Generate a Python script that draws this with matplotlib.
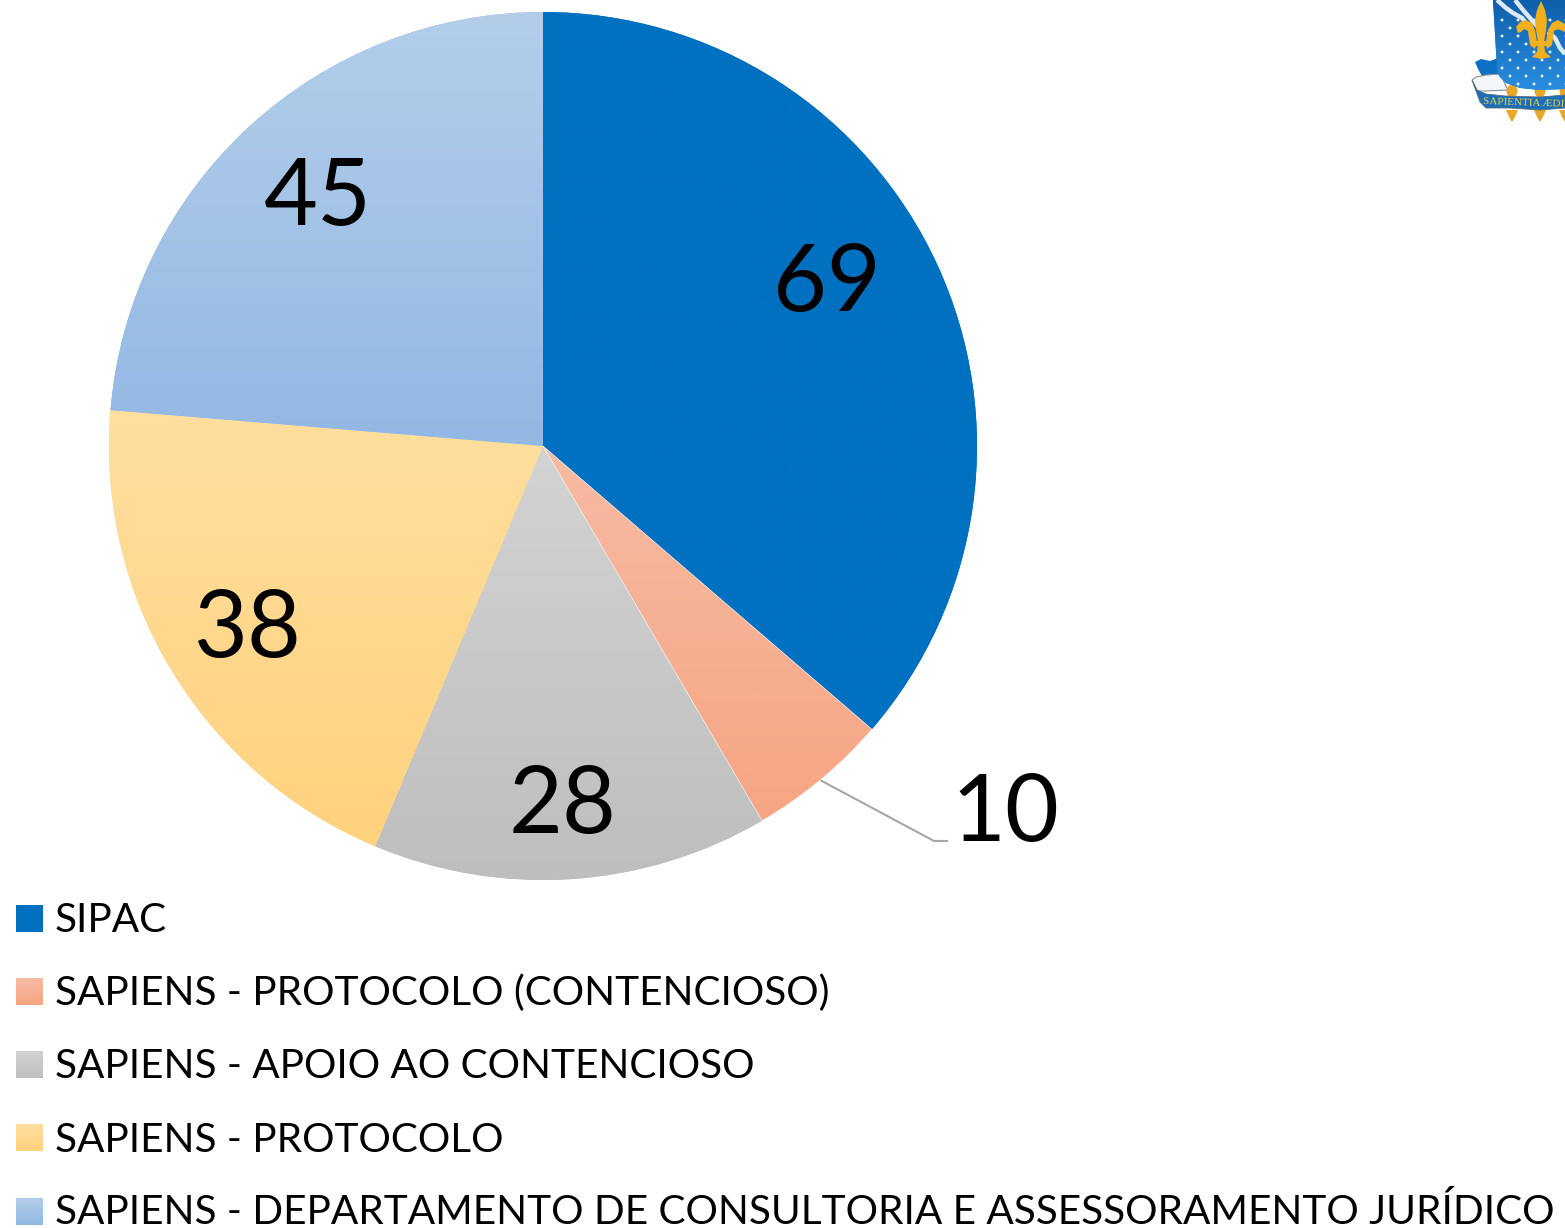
import numpy as np
import matplotlib
matplotlib.use('Agg')
import matplotlib.pyplot as plt
from matplotlib.colors import LinearSegmentedColormap
from matplotlib.patches import PathPatch, Polygon, Circle, Ellipse

plt.rcParams['font.family'] = ['Lato', 'DejaVu Sans']

W, H = 1565, 1228

categories = [
    'SIPAC',
    'SAPIENS - PROTOCOLO (CONTENCIOSO)',
    'SAPIENS - APOIO AO CONTENCIOSO',
    'SAPIENS - PROTOCOLO',
    'SAPIENS - DEPARTAMENTO DE CONSULTORIA E ASSESSORAMENTO JURÍDICO',
]
values = [69, 10, 28, 38, 45]
colors_top = ['#0070C0', '#F6BBA3', '#D3D3D3', '#FFDF9F', '#B4CEEA']
colors_bottom = ['#0070C0', '#F6A583', '#BEBEBE', '#FFD27E', '#92B8E3']
label_pos = [(827, 285), (1005, 815), (563, 807), (247, 631), (318, 199)]
legend_swatch_y = [918.5, 991.5, 1065, 1138, 1211.5]
legend_text_y = [917, 990, 1063.5, 1136.5, 1208]


def flip(y):
    return H - y


def gradient_fill(ax, top, bottom, extent, clip=None, zorder=2):
    """Vertical gradient, optionally clipped to a patch."""
    cmap = LinearSegmentedColormap.from_list('g', [top, bottom])
    grad = np.linspace(0, 1, 256).reshape(-1, 1)
    im = ax.imshow(grad, cmap=cmap, extent=extent, origin='upper',
                   aspect='auto', interpolation='bilinear', zorder=zorder)
    if clip is not None:
        im.set_clip_path(clip)
    return im


def poly(ax, pts, **kw):
    p = Polygon([(x, flip(y)) for x, y in pts], **kw)
    ax.add_patch(p)
    return p


def draw_crest(ax):
    """Rough version of the crest cut off in the top right corner."""
    gold = '#F2B01E'

    # blue flag and white scroll behind the shield
    poly(ax, [(1475, 62), (1481, 59), (1490, 61), (1498, 58), (1499, 76), (1482, 76), (1478, 69)],
         fc='#0E6FC4', ec='none', zorder=3)
    poly(ax, [(1472, 80), (1476, 77), (1486, 75), (1500, 74), (1508, 90), (1486, 91), (1477, 91)],
         fc='#F4F6FA', ec='#8A8F96', lw=0.8, zorder=3)

    # shield
    shield = poly(ax, [(1493, 0), (1565, 0), (1565, 89), (1540, 90), (1520, 88), (1506, 83), (1499, 76), (1497, 68)],
                  fc='#1477CC', ec='none', zorder=4)
    gradient_fill(ax, '#0F5FA8', '#2A8FE2', (1490, 1565, flip(92), flip(0)), clip=shield, zorder=4)

    # wavy white bands
    bands = [
        [(1497, 0), (1506, 8), (1513, 13), (1522, 18), (1530, 28)],
        [(1515, 0), (1523, 10), (1530, 18), (1537, 26), (1545, 32)],
        [(1548, 32), (1555, 38), (1560, 48), (1565, 54)],
    ]
    for band in bands:
        xs = [b[0] for b in band]
        ys = [flip(b[1]) for b in band]
        line, = ax.plot(xs, ys, color='#DDE9F5', lw=3.2, zorder=5, solid_capstyle='butt')
        line.set_clip_path(shield)

    # dots, every other row shifted
    for j, dy in enumerate(range(20, 90, 8)):
        off = 0 if j % 2 == 0 else 8
        for dx in range(1502, 1570, 16):
            c = Circle((dx + off, flip(dy)), 1.5, fc='#DCEBFA', ec='none', zorder=5)
            ax.add_patch(c)
            c.set_clip_path(shield)

    # fleur-de-lis
    poly(ax, [(1541, 1), (1545, 10), (1547, 20), (1546, 30), (1544, 42), (1538, 42), (1536, 30), (1535, 20), (1537, 10)],
         fc=gold, ec='none', zorder=7)
    poly(ax, [(1516, 27), (1520, 22), (1526, 20), (1532, 23), (1535, 30), (1537, 42), (1535, 49), (1530, 45), (1529, 38),
              (1528, 31), (1524, 29), (1521, 32), (1518, 33)], fc=gold, ec='none', zorder=7)
    poly(ax, [(1565, 24), (1558, 20), (1552, 23), (1548, 30), (1546, 42), (1547, 49), (1552, 45), (1553, 38), (1554, 31),
              (1558, 29), (1565, 32)], fc=gold, ec='none', zorder=7)
    poly(ax, [(1531, 41), (1551, 41), (1551, 46), (1531, 46)], fc=gold, ec='none', zorder=7)
    poly(ax, [(1538, 44), (1544, 44), (1545, 52), (1551, 57), (1541, 59), (1532, 57), (1537, 52)],
         fc=gold, ec='none', zorder=7)

    # gold tassels
    for tx in [1512, 1540, 1565]:
        poly(ax, [(tx - 6, 110), (tx + 6, 110), (tx + 3, 117), (tx, 122), (tx - 3, 117)],
             fc='#E9A727', ec='none', zorder=5)
        ax.add_patch(Ellipse((tx, flip(91)), 11, 13, fc='#E9A727', ec='none', zorder=3.5))

    # ribbon
    poly(ax, [(1472, 80), (1477, 90), (1486, 94), (1505, 96), (1540, 97), (1565, 95),
              (1565, 108), (1540, 110), (1510, 108), (1486, 108), (1480, 102)],
         fc='#1A6FB8', ec='#5A6B7A', lw=0.6, zorder=6)
    ax.text(1483, flip(102), 'SAPIENTIA ÆDI', family='Liberation Serif', fontsize=8, color='#E9D04A',
            rotation=-2, rotation_mode='anchor', ha='left', va='center', zorder=8)


fig = plt.figure(figsize=(W / 100, H / 100), dpi=100)
ax = fig.add_axes([0, 0, 1, 1])

wedges, _ = ax.pie(values, startangle=90, counterclock=False, center=(543, flip(446)), radius=434,
                   colors=colors_bottom, wedgeprops={'linewidth': 0})
ax.axis('off')

for wedge, top, bottom in zip(wedges, colors_top, colors_bottom):
    box = wedge.get_path().transformed(wedge.get_patch_transform()).get_extents()
    gradient_fill(ax, top, bottom, (box.x0 - 1, box.x1 + 1, box.y0 - 1, box.y1 + 1), clip=wedge)

# thin white seam between the small slice and its neighbour
seam = PathPatch(wedges[1].get_path().transformed(wedges[1].get_patch_transform()), fc='none', ec='white', lw=0.4, zorder=3)
ax.add_patch(seam)

for val, (lx, ly) in zip(values, label_pos):
    ax.text(lx, flip(ly), str(val), fontsize=67, color='black', ha='center', va='center', zorder=9)

# leader line of the small slice
ax.plot([820, 934, 947], [flip(780), flip(841), flip(841)], color='#A6A6A6', lw=1.5, zorder=1)

for name, sy, ty, top, bottom in zip(categories, legend_swatch_y, legend_text_y, colors_top, colors_bottom):
    gradient_fill(ax, top, bottom, (16, 43, flip(sy + 13.5), flip(sy - 13.5)))
    ax.text(55, flip(ty), name, fontsize=29.2, color='black', ha='left', va='center_baseline', zorder=9)

draw_crest(ax)
ax.set_aspect('auto')
ax.set_xlim(0, W)
ax.set_ylim(0, H)

fig.savefig('out.png', dpi=100)
